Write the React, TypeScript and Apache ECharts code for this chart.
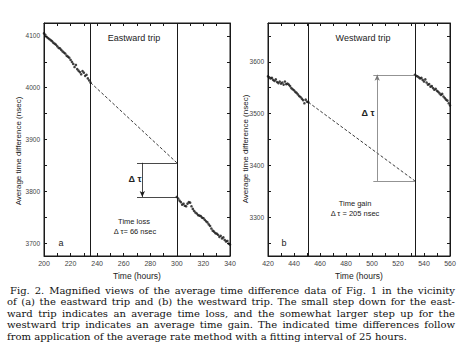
import React, { useEffect, useRef } from "react";
import * as echarts from "echarts";

// ---- Data ----
const eastBefore: number[][] = [
  [200, 4105], [201, 4102], [202, 4098], [203, 4096], [204, 4094], [205, 4092],
  [206, 4090], [207, 4087], [208, 4085], [209, 4083], [210, 4080], [211, 4077],
  [212, 4076], [213, 4073], [214, 4070], [215, 4068], [216, 4066], [217, 4062],
  [218, 4060], [219, 4058], [220, 4054], [221, 4050], [222, 4046], [223, 4040],
  [224, 4044], [225, 4036], [226, 4033], [227, 4030], [228, 4026], [229, 4032],
  [230, 4029], [231, 4023], [232, 4025], [233, 4018], [234, 4014], [235, 4010],
];
const eastAfter: number[][] = [
  [300, 3789], [301, 3786], [302, 3782], [303, 3779], [304, 3774], [305, 3776],
  [306, 3772], [307, 3771], [308, 3776], [309, 3779], [310, 3778], [311, 3771],
  [312, 3766], [313, 3762], [314, 3759], [315, 3757], [316, 3754], [317, 3753],
  [318, 3752], [319, 3749], [320, 3748], [321, 3745], [322, 3742], [323, 3740],
  [324, 3736], [325, 3733], [326, 3728], [327, 3724], [328, 3722], [329, 3719],
  [330, 3718], [331, 3716], [332, 3712], [333, 3714], [334, 3709], [335, 3711],
  [336, 3706], [337, 3703], [338, 3704], [339, 3699], [340, 3697],
];
const eastTrend: number[][] = [[235, 4010], [300, 3855]];
const eastTripBounds = [235, 300];
const eastStep = { x0: 270, xArrow: 274, top: 3855, bottom: 3789 };

const westBefore: number[][] = [
  [420, 3572], [421, 3570], [422, 3568], [423, 3569], [424, 3565], [425, 3563],
  [426, 3566], [427, 3561], [428, 3559], [429, 3562], [430, 3558], [431, 3560],
  [432, 3556], [433, 3562], [434, 3557], [435, 3558], [436, 3556], [437, 3553],
  [438, 3549], [439, 3547], [440, 3545], [441, 3542], [442, 3540], [443, 3537],
  [444, 3534], [445, 3532], [446, 3529], [447, 3526], [448, 3520], [449, 3527],
  [450, 3523], [451, 3522],
];
const westAfter: number[][] = [
  [533, 3575], [534, 3573], [535, 3572], [536, 3570], [537, 3568], [538, 3569],
  [539, 3565], [540, 3562], [541, 3566], [542, 3560], [543, 3556], [544, 3557],
  [545, 3552], [546, 3553], [547, 3549], [548, 3546], [549, 3548], [550, 3544],
  [551, 3542], [552, 3539], [553, 3536], [554, 3538], [555, 3533], [556, 3530],
  [557, 3527], [558, 3525], [559, 3520], [560, 3516],
];
const westTrend: number[][] = [[451, 3522], [533, 3370]];
const westTripBounds = [451, 533];
const westStep = { x0: 501, xArrow: 504, top: 3575, bottom: 3370 };

const eastXLabels = [200, 220, 240, 260, 280, 300, 320, 340];
const westXLabels = [420, 440, 460, 480, 500, 520, 540, 560];
const eastYTicks = [3700, 3750, 3800, 3850, 3900, 3950, 4000, 4050, 4100];
const eastYLabels = [3700, 3800, 3900, 4000, 4100];
const westYTicks = [3250, 3300, 3350, 3400, 3450, 3500, 3550, 3600, 3650];
const westYLabels = [3300, 3400, 3500, 3600];

const captionLines = [
  "Fig. 2. Magnified views of the average time difference data of Fig. 1 in the vicinity",
  "of (a) the eastward trip and (b) the westward trip. The small step down for the east-",
  "ward trip indicates an average time loss, and the somewhat larger step up for the",
  "westward trip indicates an average time gain. The indicated time differences follow",
  "from application of the average rate method with a fitting interval of 25 hours.",
];

const SANS = "'Liberation Sans', Arial, sans-serif";
const SERIF = "'DejaVu Serif', 'Liberation Serif', serif";
const INK = "#1a1a1a";
const plain = (v: number) => String(v);

function xAx(grid: number, min: number, max: number, labels: number[], bottom: boolean) {
  return {
    type: "value",
    gridIndex: grid,
    min,
    max,
    interval: 10,
    position: bottom ? "bottom" : "top",
    axisLine: { show: true, lineStyle: { color: INK, width: 1 } },
    axisTick: { show: true, inside: true, length: 3, lineStyle: { color: INK } },
    axisLabel: bottom
      ? { show: true, customValues: labels, formatter: plain, fontSize: 7, color: "#444", fontFamily: SANS, margin: 4 }
      : { show: false },
    splitLine: { show: false },
    name: bottom ? "Time (hours)" : "",
    nameLocation: "middle",
    nameGap: 11,
    nameTextStyle: { fontSize: 8.5, color: "#222", fontFamily: SANS },
  };
}

function yAx(grid: number, min: number, max: number, ticks: number[], labels: number[], left: boolean) {
  return {
    type: "value",
    gridIndex: grid,
    min,
    max,
    position: left ? "left" : "right",
    axisLine: { show: true, lineStyle: { color: INK, width: 1 } },
    axisTick: { show: true, inside: true, length: 3, customValues: ticks, lineStyle: { color: INK } },
    axisLabel: left
      ? { show: true, customValues: labels, formatter: plain, fontSize: 6.5, color: "#444", fontFamily: SANS, margin: 4 }
      : { show: false },
    splitLine: { show: false },
  };
}

function scatter(xi: number, yi: number, data: number[][]) {
  return {
    type: "scatter",
    xAxisIndex: xi,
    yAxisIndex: yi,
    data,
    symbol: "circle",
    symbolSize: 2.6,
    itemStyle: { color: "#111" },
    silent: true,
  };
}

function trend(xi: number, yi: number, data: number[][], bounds: number[], step: any, arrowUp: boolean, bracketColor: string) {
  return {
    type: "line",
    xAxisIndex: xi,
    yAxisIndex: yi,
    data,
    showSymbol: false,
    lineStyle: { color: "#222", width: 0.9, type: [3, 2] },
    silent: true,
    markLine: {
      silent: true,
      symbol: "none",
      label: { show: false },
      lineStyle: { color: INK, width: 1, type: "solid" },
      data: [
        { xAxis: bounds[0] },
        { xAxis: bounds[1] },
        [
          { coord: [step.x0, step.top], lineStyle: { color: bracketColor, width: 0.8, type: "solid" } },
          { coord: [bounds[1], step.top] },
        ],
        [
          { coord: [step.x0, step.bottom], lineStyle: { color: bracketColor, width: 0.8, type: "solid" } },
          { coord: [bounds[1], step.bottom] },
        ],
        [
          {
            coord: [step.xArrow, arrowUp ? step.bottom : step.top],
            symbol: "none",
            lineStyle: { color: bracketColor, width: 0.8, type: "solid" },
          },
          { coord: [step.xArrow, arrowUp ? step.top : step.bottom], symbol: "arrow", symbolSize: [4, 6] },
        ],
      ],
    },
  };
}

function txt(x: number, y: number, text: string, size: number, extra: any = {}) {
  return {
    type: "text",
    x,
    y,
    silent: true,
    style: {
      text,
      fontSize: size,
      fontFamily: SANS,
      fill: "#222",
      textAlign: "center",
      textVerticalAlign: "middle",
      ...extra,
    },
  };
}

// Justified caption: each line of the paragraph except the last is spread across the full width.
function captionGraphics(): any[] {
  const fontSize = 10;
  const font = `${fontSize}px ${SERIF}`;
  const canvas = document.createElement("canvas");
  const ctx = canvas.getContext("2d")!;
  ctx.font = font;
  const out: any[] = [];
  const right = 455;
  captionLines.forEach((line, i) => {
    const left = i === 0 ? 10 : 7;
    const y = 290 + i * 11.5;
    const style = { fontSize, fontFamily: SERIF, fill: "#111", textAlign: "left", textVerticalAlign: "middle" };
    if (i === captionLines.length - 1) {
      out.push({ type: "text", x: left, y, silent: true, style: { ...style, text: line } });
      return;
    }
    const words = line.split(" ");
    const widths = words.map((w) => ctx.measureText(w).width);
    const total = widths.reduce((a, b) => a + b, 0);
    const gap = Math.max(2, (right - left - total) / (words.length - 1));
    let x = left;
    words.forEach((w, k) => {
      out.push({ type: "text", x, y, silent: true, style: { ...style, text: w } });
      x += widths[k] + gap;
    });
  });
  return out;
}

export default function App() {
  const ref = useRef<HTMLDivElement>(null);
  useEffect(() => {
    document.body.style.margin = "0";
    if (!ref.current) return;
    const chart = echarts.init(ref.current, undefined, { renderer: "svg" });
    const graphic: any[] = [
      txt(134, 38, "Eastward trip", 9),
      txt(363, 38, "Westward trip", 9),
      txt(135, 179, "Δ τ", 9, { fontWeight: "bold" }),
      txt(368, 113, "Δ τ", 9, { fontWeight: "bold" }),
      txt(134, 221, "Time loss", 7.5),
      txt(135, 231, "Δ τ= 66 nsec", 7.5),
      txt(355, 203, "Time gain", 7.5),
      txt(355, 213, "Δ τ = 205 nsec", 7.5),
      txt(61, 243, "a", 9),
      txt(284, 243, "b", 9),
      {
        type: "text",
        x: 18,
        y: 151,
        rotation: Math.PI / 2,
        silent: true,
        style: { text: "Average time difference (nsec)", fontSize: 8, fontFamily: SANS, fill: "#222", textAlign: "center", textVerticalAlign: "middle" },
      },
      {
        type: "text",
        x: 245,
        y: 149,
        rotation: Math.PI / 2,
        silent: true,
        style: { text: "Average time difference (nsec)", fontSize: 8, fontFamily: SANS, fill: "#222", textAlign: "center", textVerticalAlign: "middle" },
      },
      ...captionGraphics(),
    ];

    chart.setOption({
      animation: false,
      backgroundColor: "#fff",
      grid: [
        { left: 44, top: 23, width: 186, height: 233, show: true, borderColor: INK, borderWidth: 1, backgroundColor: "transparent" },
        { left: 268, top: 23, width: 182, height: 233, show: true, borderColor: INK, borderWidth: 1, backgroundColor: "transparent" },
      ],
      xAxis: [
        xAx(0, 200, 340, eastXLabels, true),
        xAx(0, 200, 340, eastXLabels, false),
        xAx(1, 420, 560, westXLabels, true),
        xAx(1, 420, 560, westXLabels, false),
      ],
      yAxis: [
        yAx(0, 3675, 4125, eastYTicks, eastYLabels, true),
        yAx(0, 3675, 4125, eastYTicks, eastYLabels, false),
        yAx(1, 3225, 3675, westYTicks, westYLabels, true),
        yAx(1, 3225, 3675, westYTicks, westYLabels, false),
      ],
      series: [
        scatter(0, 0, eastBefore),
        scatter(0, 0, eastAfter),
        trend(0, 0, eastTrend, eastTripBounds, eastStep, false, INK),
        scatter(2, 2, westBefore),
        scatter(2, 2, westAfter),
        trend(2, 2, westTrend, westTripBounds, westStep, true, "#777"),
      ],
      graphic,
    });
    return () => chart.dispose();
  }, []);
  return <div ref={ref} style={{ width: 463, height: 352 }} />;
}
